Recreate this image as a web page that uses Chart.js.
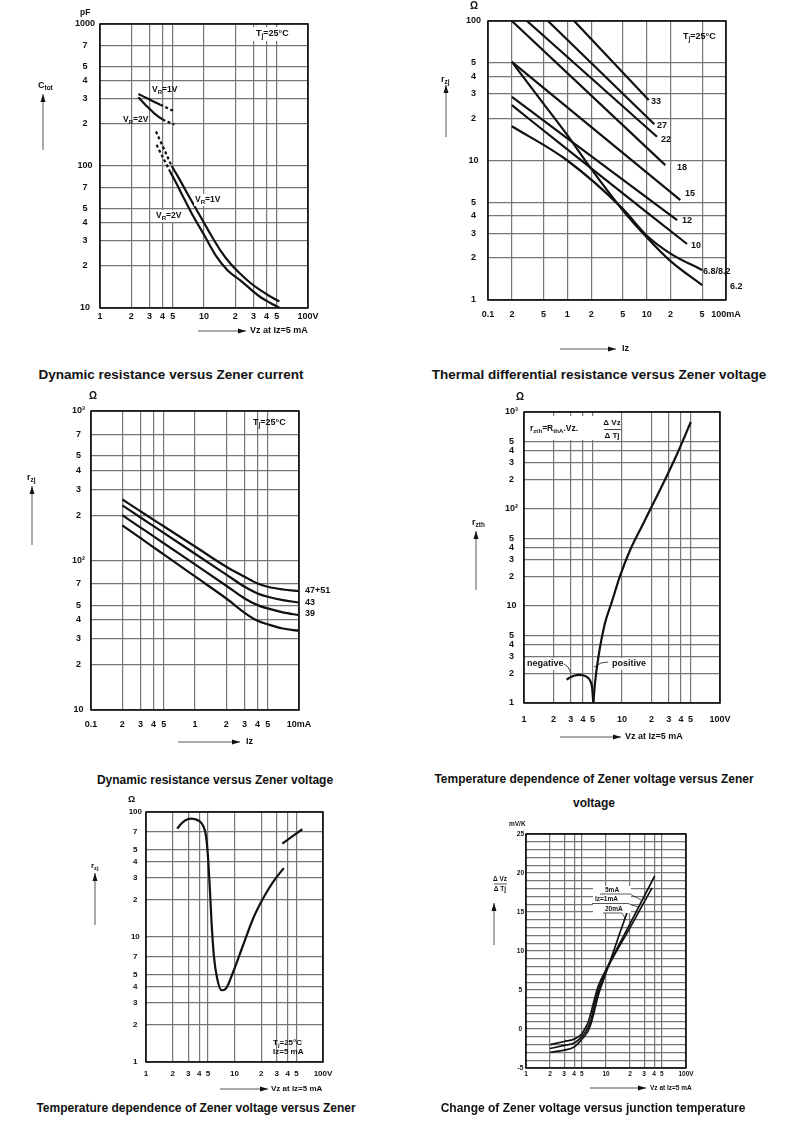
<!DOCTYPE html>
<html>
<head>
<meta charset="utf-8">
<script src="https://cdn.jsdelivr.net/npm/chart.js@4.4.0/dist/chart.umd.min.js"></script>
<style>
body { margin: 0; background: #fff; width: 790px; height: 1123px; position: relative; overflow: hidden;
       font-family: "Liberation Sans", Arial, sans-serif; }
canvas { position: absolute; }
.cap { position: absolute; font-weight: bold; white-space: nowrap; transform: translate(-50%, -50%); color: #111; }
</style>
</head>
<body>
<canvas id="c1"></canvas>
<canvas id="c2"></canvas>
<canvas id="c3"></canvas>
<canvas id="c4"></canvas>
<canvas id="c5"></canvas>
<canvas id="c6"></canvas>

<div class="cap" style="left:171px;top:374px;font-size:13.5px">Dynamic resistance versus Zener current</div>
<div class="cap" style="left:599px;top:374px;font-size:13.5px">Thermal differential resistance versus Zener voltage</div>
<div class="cap" style="left:215px;top:780px;font-size:12px">Dynamic resistance versus Zener voltage</div>
<div class="cap" style="left:594px;top:779px;font-size:12px">Temperature dependence of Zener voltage versus Zener</div>
<div class="cap" style="left:594px;top:803px;font-size:12px">voltage</div>
<div class="cap" style="left:196px;top:1108px;font-size:12px">Temperature dependence of Zener voltage versus Zener</div>
<div class="cap" style="left:593px;top:1108px;font-size:12px">Change of Zener voltage versus junction temperature</div>

<script>
// ---- chart 1: Ctot vs Vz ----
const c1Xticks = [1, 2, 3, 4, 5, 10, 20, 30, 40, 50, 100];
const c1Xlabels = ['1', '2', '3', '4', '5', '10', '2', '3', '4', '5', '100V'];
const c1Yticks = [10, 20, 30, 40, 50, 70, 100, 200, 300, 400, 500, 700, 1000];
const c1Ylabels = ['10', '2', '3', '4', '5', '7', '100', '2', '3', '4', '5', '7', '1000'];
const c1Vr1ShortX = [2.34, 3, 3.8, 4.5, 5.26];
const c1Vr1ShortY = [321, 294, 270, 255, 241];
const c1Vr2ShortX = [2.34, 2.8, 3.3, 4, 4.6, 5.2];
const c1Vr2ShortY = [305, 265, 236, 213, 203, 196];
const c1Vr1X = [3.45, 4.2, 4.9, 5.5, 6.5, 8.5, 11, 14.3, 18, 22.2, 28, 34.5, 43, 53];
const c1Vr1Y = [175, 128, 100, 86.6, 69.5, 49, 35.2, 25.6, 20.5, 17.5, 15.0, 13.4, 12.1, 11.1];
const c1Vr2X = [3.5, 4.1, 4.7, 5.5, 6.5, 7.6, 10, 13.2, 17, 22.2, 28, 34.5, 43, 53];
const c1Vr2Y = [141, 112, 92, 74, 58, 46.5, 32.8, 23, 18.3, 15.7, 13.6, 12, 10.9, 10.05];

// ---- chart 2: rzj vs Iz, per Zener voltage ----
const c2Xticks = [0.1, 0.2, 0.5, 1, 2, 5, 10, 20, 50, 100];
const c2Xlabels = ['0.1', '2', '5', '1', '2', '5', '10', '2', '5', '100mA'];
const c2Yticks = [1, 2, 3, 4, 5, 10, 20, 30, 40, 50, 100];
const c2Ylabels = ['1', '2', '3', '4', '5', '10', '2', '3', '4', '5', '100'];
const c2V33X = [1.22, 10.6];
const c2V33Y = [100, 27.1];
const c2V27X = [0.57, 12.5];
const c2V27Y = [100, 18.2];
const c2V22X = [0.31, 13.5];
const c2V22Y = [100, 14.8];
const c2V18X = [0.2, 17.2];
const c2V18Y = [100, 9.27];
const c2V15X = [0.2, 26.6];
const c2V15Y = [50.9, 5.2];
const c2V12X = [0.2, 1, 24.2];
const c2V12Y = [28.6, 14.4, 3.74];
const c2V10X = [0.2, 1, 32.3];
const c2V10Y = [24.9, 12, 2.52];
const c2V68X = [0.2, 1, 5, 10, 20, 50];
const c2V68Y = [17.6, 10, 4.5, 2.9, 2.15, 1.64];
const c2V62X = [0.2, 0.5, 1, 2, 5, 10, 20, 50];
const c2V62Y = [50.9, 25.6, 15.2, 8.7, 4.4, 2.82, 1.9, 1.28];

// ---- chart 3: rzj vs Iz, high voltage types ----
const c3Xticks = [0.1, 0.2, 0.3, 0.4, 0.5, 1, 2, 3, 4, 5, 10];
const c3Xlabels = ['0.1', '2', '3', '4', '5', '1', '2', '3', '4', '5', '10mA'];
const c3Yticks = [10, 20, 30, 40, 50, 70, 100, 200, 300, 400, 500, 700, 1000];
const c3Ylabels = ['10', '2', '3', '4', '5', '7', '10²', '2', '3', '4', '5', '7', '10³'];
const c3Iz = [0.2, 0.3, 0.4, 0.5, 1, 2, 3, 4, 5, 7, 10];
const c3V47 = [256, 213, 187, 169.5, 124, 90.8, 77.8, 70.2, 66.7, 64, 62.4];
const c3V43 = [234, 194, 169.7, 153, 111, 80.5, 66.7, 60.2, 57.2, 54.3, 52.4];
const c3V39 = [201, 166, 145, 130.4, 94.1, 67.8, 55.7, 50.3, 47.8, 45, 43.1];
const c3V36 = [172, 141, 122.5, 109.8, 78.2, 55.7, 44.7, 39.5, 37.4, 35.1, 33.9];

// ---- chart 4: rzth vs Vz ----
const c4Xticks = [1, 2, 3, 4, 5, 10, 20, 30, 40, 50, 100];
const c4Xlabels = ['1', '2', '3', '4', '5', '10', '2', '3', '4', '5', '100V'];
const c4Yticks = [1, 2, 3, 4, 5, 10, 20, 30, 40, 50, 100, 200, 300, 400, 500, 1000];
const c4Ylabels = ['1', '2', '3', '4', '5', '10', '2', '3', '4', '5', '10²', '2', '3', '4', '5', '10³'];
const c4NegX = [2.72, 3.0, 3.3, 3.6, 4.0, 4.4, 4.7, 4.95, 5.1];
const c4NegY = [1.74, 1.85, 1.92, 1.95, 1.93, 1.85, 1.72, 1.45, 1.0];
const c4PosX = [5.1, 5.3, 5.75, 6.7, 7.8, 9.5, 12.1, 16.5, 20.8, 26.3, 36, 42, 50.3];
const c4PosY = [1.0, 1.6, 3.0, 6.65, 10.7, 20.1, 37.8, 71, 114, 183, 358, 512, 789];

// ---- chart 5: rzj vs Vz ----
const c5Xticks = [1, 2, 3, 4, 5, 10, 20, 30, 40, 50, 100];
const c5Xlabels = ['1', '2', '3', '4', '5', '10', '2', '3', '4', '5', '100V'];
const c5Yticks = [1, 2, 3, 4, 5, 7, 10, 20, 30, 40, 50, 70, 100];
const c5Ylabels = ['1', '2', '3', '4', '5', '7', '10', '2', '3', '4', '5', '7', '100'];
const c5LowX = [2.25, 2.5, 2.8, 3.2, 3.6, 4.1, 4.43, 4.7, 4.85, 5.04, 5.27, 5.5, 5.84, 6.37, 7.13, 7.98, 9.65, 12.5, 16.2, 21, 27.2, 36];
const c5LowY = [73.6, 80.5, 86, 88.5, 87.5, 83.5, 77.3, 68, 58, 42, 24.4, 13.2, 7.14, 4.65, 3.75, 3.86, 5.25, 8.59, 14, 20.3, 27.5, 35.6];
const c5HighX = [34.7, 58.4];
const c5HighY = [55.9, 72.8];

// ---- chart 6: dVz/dTj vs Vz ----
const c6Xticks = [1, 2, 3, 4, 5, 10, 20, 30, 40, 50, 100];
const c6Xlabels = ['1', '2', '3', '4', '5', '10', '2', '3', '4', '5', '100V'];
const c6Yticks = [];
for (let v = -5; v <= 25; v++) c6Yticks.push(v);
const c6X5 = [2, 3, 4, 5, 5.5, 6, 6.5, 7, 8, 10, 20, 40.5];
const c6Y5 = [-2.0, -1.6, -1.3, -0.6, 0.1, 0.9, 2.1, 3.4, 5.5, 7.6, 13.5, 19.6];
const c6X1 = [2, 3, 4, 5, 5.5, 6, 6.5, 7, 8, 10, 20, 37.6];
const c6Y1 = [-2.5, -2.1, -1.8, -0.95, -0.4, 0.3, 1.2, 2.6, 4.9, 7.4, 13.0, 18.1];
const c6X20 = [2, 3, 4, 5, 5.5, 6, 6.5, 7, 8, 10, 12, 15, 18.3];
const c6Y20 = [-3.0, -2.7, -2.3, -1.3, -0.8, -0.2, 0.7, 1.9, 4.3, 7.2, 9.5, 12.4, 14.9];

const FONT = '"Liberation Sans", Arial, sans-serif';
const AXW = 30, AXH = 22;
const INK = '#111';

function pts(xs, ys) {
    return xs.map((x, i) => ({x: x, y: ys[i]}));
}

function line(xs, ys, extra) {
    return Object.assign({
        data: pts(xs, ys),
        showLine: true,
        borderColor: INK,
        borderWidth: 2.2,
        pointRadius: 0,
        fill: false,
        cubicInterpolationMode: 'monotone'
    }, extra || {});
}

// dashed pieces of the chart 1 curves
function dashTo(v) {
    return {borderDash: ctx => (ctx.p1.parsed.x <= v ? [3, 2.5] : undefined)};
}
function dashFrom(v) {
    return {borderDash: ctx => (ctx.p0.parsed.x >= v ? [3, 2.5] : undefined)};
}

function axis(type, min, max, ticks, labels, pad, size, dir) {
    return {
        type: type,
        min: min,
        max: max,
        afterBuildTicks: s => { s.ticks = ticks.map(v => ({value: v})); },
        afterFit: s => { if (dir === 'x') s.height = AXH; else s.width = AXW; },
        ticks: {
            autoSkip: false,
            maxRotation: 0,
            padding: pad,
            color: INK,
            crossAlign: dir === 'y' ? 'center' : 'near',
            font: {family: FONT, size: size, weight: 'bold'},
            callback: (v, i) => labels(v, i)
        },
        grid: {color: '#767676', lineWidth: 1.2, drawTicks: false},
        border: {display: false}
    };
}

function fromList(list) {
    return (v, i) => list[i];
}

// text helpers, page coordinates
function rich(c, x, y, parts, size, align, bold) {
    const w0 = bold === false ? '' : 'bold ';
    let w = 0;
    parts.forEach(p => {
        c.font = w0 + (p[1] ? size * 0.72 : size) + 'px ' + FONT;
        w += c.measureText(p[0]).width;
    });
    let px = align === 'center' ? x - w / 2 : (align === 'right' ? x - w : x);
    c.textAlign = 'left';
    c.textBaseline = 'middle';
    c.fillStyle = INK;
    parts.forEach(p => {
        const s = p[1] ? size * 0.72 : size;
        c.font = w0 + s + 'px ' + FONT;
        const dy = p[1] === 1 ? size * 0.28 : (p[1] === 2 ? -size * 0.35 : 0);
        c.fillText(p[0], px, y + dy);
        px += c.measureText(p[0]).width;
    });
    return w;
}
function txt(c, x, y, s, size, align) {
    return rich(c, x, y, [[s, 0]], size, align);
}
function box(c, x, y, w, h) {
    c.fillStyle = '#fff';
    c.fillRect(x, y, w, h);
}
function arrow(c, x1, y1, x2, y2) {
    c.strokeStyle = '#555';
    c.lineWidth = 1;
    c.beginPath();
    c.moveTo(x1, y1);
    c.lineTo(x2, y2);
    c.stroke();
    const a = Math.atan2(y2 - y1, x2 - x1);
    c.fillStyle = INK;
    c.beginPath();
    c.moveTo(x2, y2);
    c.lineTo(x2 - 8 * Math.cos(a) + 2.5 * Math.sin(a), y2 - 8 * Math.sin(a) - 2.5 * Math.cos(a));
    c.lineTo(x2 - 8 * Math.cos(a) - 2.5 * Math.sin(a), y2 - 8 * Math.sin(a) + 2.5 * Math.cos(a));
    c.closePath();
    c.fill();
}
function seg(c, list, w) {
    c.strokeStyle = INK;
    c.lineWidth = w || 0.8;
    c.beginPath();
    list.forEach((p, i) => (i ? c.lineTo(p[0], p[1]) : c.moveTo(p[0], p[1])));
    c.stroke();
}

function build(spec) {
    const cv = document.getElementById(spec.id);
    const [cx, cy, cw, ch] = spec.box;
    const [pl, pt, pr, pb] = spec.plot;
    cv.width = cw;
    cv.height = ch;
    cv.style.left = cx + 'px';
    cv.style.top = cy + 'px';
    cv.style.width = cw + 'px';
    cv.style.height = ch + 'px';
    return new Chart(cv, {
        type: 'scatter',
        data: {datasets: spec.datasets},
        options: {
            responsive: false,
            animation: false,
            events: [],
            layout: {padding: {left: pl - cx - AXW, top: pt - cy, right: cx + cw - pr, bottom: cy + ch - pb - AXH}},
            plugins: {legend: {display: false}, tooltip: {enabled: false}},
            scales: {x: spec.x, y: spec.y}
        },
        plugins: [{
            id: 'frame',
            beforeDatasetsDraw(chart) {
                const a = chart.chartArea, c = chart.ctx;
                c.save();
                c.strokeStyle = '#000';
                c.lineWidth = 1.5;
                c.strokeRect(a.left, a.top, a.right - a.left, a.bottom - a.top);
                c.restore();
            },
            afterDraw(chart) {
                const c = chart.ctx;
                c.save();
                c.translate(-cx, -cy);
                spec.extra(c);
                c.restore();
            }
        }]
    });
}

// chart 1
build({
    id: 'c1', box: [0, 0, 395, 345], plot: [100, 24, 308, 308],
    x: axis('logarithmic', 1, 100, c1Xticks, fromList(c1Xlabels), 3, 9, 'x'),
    y: axis('logarithmic', 10, 1000, c1Yticks, fromList(c1Ylabels), 5, 9, 'y'),
    datasets: [
        line(c1Vr1ShortX, c1Vr1ShortY, {segment: dashFrom(3.8)}),
        line(c1Vr2ShortX, c1Vr2ShortY, {segment: dashFrom(4)}),
        line(c1Vr1X, c1Vr1Y, {segment: dashTo(4.9)}),
        line(c1Vr2X, c1Vr2Y, {segment: dashTo(4.7)})
    ],
    extra: c => {
        txt(c, 80, 13, 'pF', 8.5);
        rich(c, 38, 86, [['C', 0], ['tot', 1]], 9);
        arrow(c, 43, 150, 43, 94);
        box(c, 252, 27, 52, 14);
        rich(c, 256, 34, [['T', 0], ['j', 1], ['=25°C', 0]], 9);
        rich(c, 152, 90, [['V', 0], ['R', 1], ['=1V', 0]], 8.5);
        rich(c, 123, 120, [['V', 0], ['R', 1], ['=2V', 0]], 8.5);
        box(c, 194, 194, 30, 12);
        rich(c, 195, 200, [['V', 0], ['R', 1], ['=1V', 0]], 8.5);
        box(c, 155, 210, 30, 12);
        rich(c, 156, 216, [['V', 0], ['R', 1], ['=2V', 0]], 8.5);
        arrow(c, 198, 331, 246, 331);
        txt(c, 250, 331, 'Vz at Iz=5 mA', 9);
    }
});

// chart 2
build({
    id: 'c2', box: [395, 0, 395, 360], plot: [488, 21, 726, 300],
    x: axis('logarithmic', 0.1, 100, c2Xticks, fromList(c2Xlabels), 9, 9, 'x'),
    y: axis('logarithmic', 1, 100, c2Yticks, fromList(c2Ylabels), 7, 9, 'y'),
    datasets: [
        line(c2V33X, c2V33Y), line(c2V27X, c2V27Y), line(c2V22X, c2V22Y),
        line(c2V18X, c2V18Y), line(c2V15X, c2V15Y), line(c2V12X, c2V12Y),
        line(c2V10X, c2V10Y), line(c2V68X, c2V68Y), line(c2V62X, c2V62Y)
    ],
    extra: c => {
        txt(c, 470, 6, 'Ω', 10);
        rich(c, 441, 80, [['r', 0], ['zj', 1]], 9);
        arrow(c, 446, 137, 446, 85);
        rich(c, 683, 37, [['T', 0], ['j', 1], ['=25°C', 0]], 9);
        const lab = [['33', 651, 102], ['27', 657, 126], ['22', 661, 140], ['18', 677, 168],
                     ['15', 685, 194], ['12', 682, 221], ['10', 691, 246], ['6.8/8.2', 703, 272], ['6.2', 730, 287]];
        lab.forEach(l => txt(c, l[1], l[2], l[0], 9));
        arrow(c, 560, 349, 616, 349);
        txt(c, 622, 349, 'Iz', 9);
    }
});

// chart 3
build({
    id: 'c3', box: [0, 385, 395, 375], plot: [91, 411, 299, 710],
    x: axis('logarithmic', 0.1, 10, c3Xticks, fromList(c3Xlabels), 9, 9, 'x'),
    y: axis('logarithmic', 10, 1000, c3Yticks, fromList(c3Ylabels), 6, 9, 'y'),
    datasets: [
        line(c3Iz, c3V47), line(c3Iz, c3V43), line(c3Iz, c3V39), line(c3Iz, c3V36)
    ],
    extra: c => {
        txt(c, 89, 396, 'Ω', 10);
        rich(c, 27, 478, [['r', 0], ['zj', 1]], 9);
        arrow(c, 32, 545, 32, 486);
        rich(c, 253, 423, [['T', 0], ['j', 1], ['=25°C', 0]], 9);
        txt(c, 305, 591, '47+51', 9);
        txt(c, 305, 603, '43', 9);
        txt(c, 305, 614, '39', 9);
        arrow(c, 178, 742, 240, 742);
        txt(c, 246, 742, 'Iz', 9);
    }
});

// chart 4
build({
    id: 'c4', box: [395, 385, 395, 375], plot: [524, 412, 720, 703],
    x: axis('logarithmic', 1, 100, c4Xticks, fromList(c4Xlabels), 11, 9, 'x'),
    y: axis('logarithmic', 1, 1000, c4Yticks, fromList(c4Ylabels), 6, 9, 'y'),
    datasets: [line(c4NegX, c4NegY), line(c4PosX, c4PosY)],
    extra: c => {
        txt(c, 516, 397, 'Ω', 10);
        box(c, 526, 416, 93, 24);
        rich(c, 530, 429, [['r', 0], ['zth', 1], ['=R', 0], ['thA', 1], ['.Vz.', 0]], 8.5);
        txt(c, 612, 423, 'Δ Vz', 8, 'center');
        seg(c, [[604, 429.5], [621, 429.5]], 0.8);
        txt(c, 612, 436, 'Δ Tj', 8, 'center');
        rich(c, 472, 523, [['r', 0], ['zth', 1]], 9);
        arrow(c, 476, 590, 476, 531);
        box(c, 526, 658, 38, 12);
        txt(c, 527, 664, 'negative', 9);
        seg(c, [[564, 664], [568, 667], [571, 673]], 0.8);
        box(c, 611, 658, 38, 12);
        txt(c, 612, 664, 'positive', 9);
        seg(c, [[608, 662], [601, 663], [594, 667]], 0.8);
        arrow(c, 560, 737, 621, 737);
        txt(c, 625, 737, 'Vz at Iz=5 mA', 9);
    }
});

// chart 5
build({
    id: 'c5', box: [0, 790, 395, 310], plot: [146, 812, 323, 1062],
    x: axis('logarithmic', 1, 100, c5Xticks, fromList(c5Xlabels), 7, 8, 'x'),
    y: axis('logarithmic', 1, 100, c5Yticks, fromList(c5Ylabels), 4, 8, 'y'),
    datasets: [line(c5LowX, c5LowY), line(c5HighX, c5HighY)],
    extra: c => {
        txt(c, 128, 800, 'Ω', 9);
        rich(c, 91, 866, [['r', 0], ['zj', 1]], 8);
        arrow(c, 95, 925, 95, 873);
        rich(c, 273, 1043, [['T', 0], ['j', 1], ['=25°C', 0]], 8);
        txt(c, 273, 1052, 'Iz=5 mA', 8);
        arrow(c, 220, 1089, 268, 1089);
        txt(c, 271, 1089, 'Vz at Iz=5 mA', 8);
    }
});

// chart 6
build({
    id: 'c6', box: [395, 812, 395, 290], plot: [526, 834, 686, 1068],
    x: axis('logarithmic', 1, 100, c6Xticks, fromList(c6Xlabels), 2, 6.5, 'x'),
    y: axis('linear', -5, 25, c6Yticks, (v) => (v % 5 === 0 ? String(v) : ''), 2, 6.5, 'y'),
    datasets: [
        line(c6X5, c6Y5, {borderWidth: 1.7}),
        line(c6X1, c6Y1, {borderWidth: 1.7}),
        line(c6X20, c6Y20, {borderWidth: 1.7})
    ],
    extra: c => {
        txt(c, 509, 824, 'mV/K', 6.5);
        txt(c, 500, 879, 'Δ Vz', 6.5, 'center');
        seg(c, [[494, 884], [507, 884]], 0.7);
        txt(c, 500, 889, 'Δ Tj', 6.5, 'center');
        arrow(c, 494, 945, 494, 903);
        box(c, 593, 886, 38, 27);
        txt(c, 605, 890, '5mA', 6.5);
        seg(c, [[600, 894], [630, 894], [641, 900]], 0.7);
        txt(c, 595, 899, 'Iz=1mA', 6.5);
        seg(c, [[592, 903.5], [628, 903.5], [638, 907]], 0.7);
        txt(c, 605, 909, '20mA', 6.5);
        seg(c, [[603, 913], [622, 913], [625, 918]], 0.7);
        arrow(c, 590, 1088, 646, 1088);
        txt(c, 650, 1088, 'Vz at Iz=5 mA', 6.5);
    }
});
</script>
</body>
</html>
